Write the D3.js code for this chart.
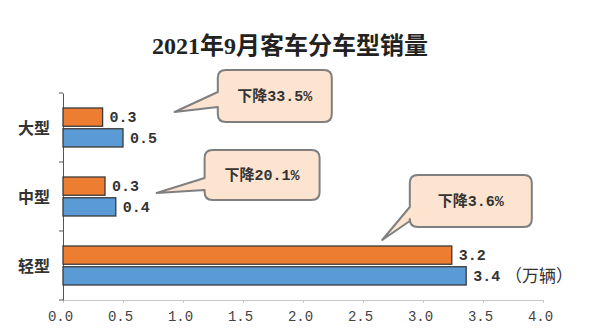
<!DOCTYPE html>
<html><head><meta charset="utf-8">
<script src="https://cdn.jsdelivr.net/npm/d3@7"></script>
<style>body{margin:0;background:#fff}</style>
</head><body>
<svg id="chart" width="600" height="330"></svg>
<script>
const title = "2021年9月客车分车型销量";
const categories = ["大型", "中型", "轻型"];
const sales2021 = [0.33, 0.35, 3.24];
const sales2020 = [0.50, 0.44, 3.36];
const changeText = ["下降33.5%", "下降20.1%", "下降3.6%"];
const xTicks = [0, 0.5, 1, 1.5, 2, 2.5, 3, 3.5, 4];
const unitLabel = "（万辆）";

const svg = d3.select("#chart");
const x = d3.scaleLinear().domain([0, 4]).range([63, 543]);
const y = d3.scaleBand().domain(categories).range([93, 300]).padding(0);
const inner = d3.scaleBand().domain(["s2021", "s2020"]).range([15, 54]).paddingInner(0.12);
const colors = {s2021: "#ED7D31", s2020: "#5B9BD5"};
const monoFont = "'Liberation Mono','Noto Sans CJK SC',monospace";

// title
svg.append("text").attr("x", 290).attr("y", 54).attr("text-anchor", "middle")
  .attr("font-family", "'Liberation Serif','Noto Sans CJK SC',serif")
  .attr("font-weight", "bold").attr("font-size", 24).attr("fill", "#222").text(title);

// x axis
const xAxis = d3.axisBottom(x).tickValues(xTicks).tickSize(3).tickFormat(d3.format(".1f"));
const gx = svg.append("g").attr("transform", "translate(0,300)").call(xAxis);
gx.select(".domain").attr("stroke", "#c8c8c8");
gx.selectAll(".tick line").attr("stroke", "#c8c8c8");
gx.selectAll(".tick text").attr("font-family", monoFont).attr("font-size", 14)
  .attr("fill", "#444").attr("dx", -3).attr("y", 11);

// y axis
const gy = svg.append("g").attr("transform", "translate(63,0)")
  .call(d3.axisLeft(y).tickSize(0).tickFormat(""));
gy.select(".domain").attr("stroke", "#555");
const bounds = [93].concat(categories.map(c => y(c) + y.bandwidth()));
svg.append("g").selectAll("line").data(bounds).join("line")
  .attr("x1", 59).attr("x2", 63).attr("y1", d => d).attr("y2", d => d)
  .attr("stroke", "#555");
svg.append("g").selectAll("text").data(categories).join("text")
  .attr("x", 50).attr("y", d => y(d) + y.bandwidth() / 2 + 1).attr("dy", "0.35em")
  .attr("text-anchor", "end").attr("font-family", "'Noto Sans CJK SC'")
  .attr("font-weight", "bold").attr("font-size", 16).attr("fill", "#333").text(d => d);

// bars
const rows = [];
categories.forEach((c, i) => {
  rows.push({cat: c, key: "s2021", v: sales2021[i]});
  rows.push({cat: c, key: "s2020", v: sales2020[i]});
});
svg.append("g").selectAll("rect").data(rows).join("rect")
  .attr("x", x(0)).attr("y", d => y(d.cat) + inner(d.key))
  .attr("width", d => x(d.v) - x(0)).attr("height", inner.bandwidth())
  .attr("fill", d => colors[d.key]).attr("stroke", "#3a3a3a").attr("stroke-width", 1.3);
svg.append("g").selectAll("text").data(rows).join("text")
  .attr("x", d => x(d.v) + 7).attr("y", d => y(d.cat) + inner(d.key) + inner.bandwidth() / 2)
  .attr("dy", "0.35em").attr("font-family", monoFont).attr("font-weight", "bold")
  .attr("font-size", 15).attr("fill", "#333").text(d => d3.format(".1f")(d.v));

// unit
svg.append("text").attr("x", 505).attr("y", y("轻型") + inner("s2020") + inner.bandwidth() / 2)
  .attr("dy", "0.35em").attr("font-family", "'Noto Sans CJK SC'").attr("font-size", 17)
  .attr("fill", "#333").text(unitLabel);

// callouts (layout in data units / band offsets)
const callLayout = [
  {bx: 1.29, bw: 114, top: -23, h: 52, tipV: 0.93, tipY: 19, ya: -1, yb: 14},
  {bx: 1.18, bw: 115, top: -12, h: 50, tipV: 0.78, tipY: 31, ya: 16, yb: 28},
  {bx: 2.89, bw: 122, top: -56, h: 52, tipV: 2.66, tipY: 9, ya: -24, yb: -10}
];
function calloutPath(x0, y0, x1, y1, r, tx, ty, ya, yb) {
  return `M${x0 + r},${y0}H${x1 - r}Q${x1},${y0} ${x1},${y0 + r}V${y1 - r}Q${x1},${y1} ${x1 - r},${y1}` +
    `H${x0 + r}Q${x0},${y1} ${x0},${y1 - r}V${yb}L${tx},${ty}L${x0},${ya}V${y0 + r}Q${x0},${y0} ${x0 + r},${y0}Z`;
}
const cg = svg.append("g").selectAll("g").data(categories).join("g");
cg.append("path").attr("d", (c, i) => {
  const L = callLayout[i], t = y(c);
  const x0 = x(L.bx), x1 = x0 + L.bw, y0 = t + L.top, y1 = y0 + L.h;
  return calloutPath(x0, y0, x1, y1, 8, x(L.tipV), t + L.tipY, t + L.ya, t + L.yb);
}).attr("fill", "#FCE4D1").attr("stroke", "#7f7f7f").attr("stroke-width", 2)
  .attr("stroke-linejoin", "round");
cg.append("text").attr("x", (c, i) => x(callLayout[i].bx) + callLayout[i].bw / 2)
  .attr("y", (c, i) => y(c) + callLayout[i].top + callLayout[i].h / 2).attr("dy", "0.35em")
  .attr("text-anchor", "middle").attr("font-family", monoFont).attr("font-weight", "bold")
  .attr("font-size", 15).attr("fill", "#333").text((c, i) => changeText[i]);
</script>
</body></html>
